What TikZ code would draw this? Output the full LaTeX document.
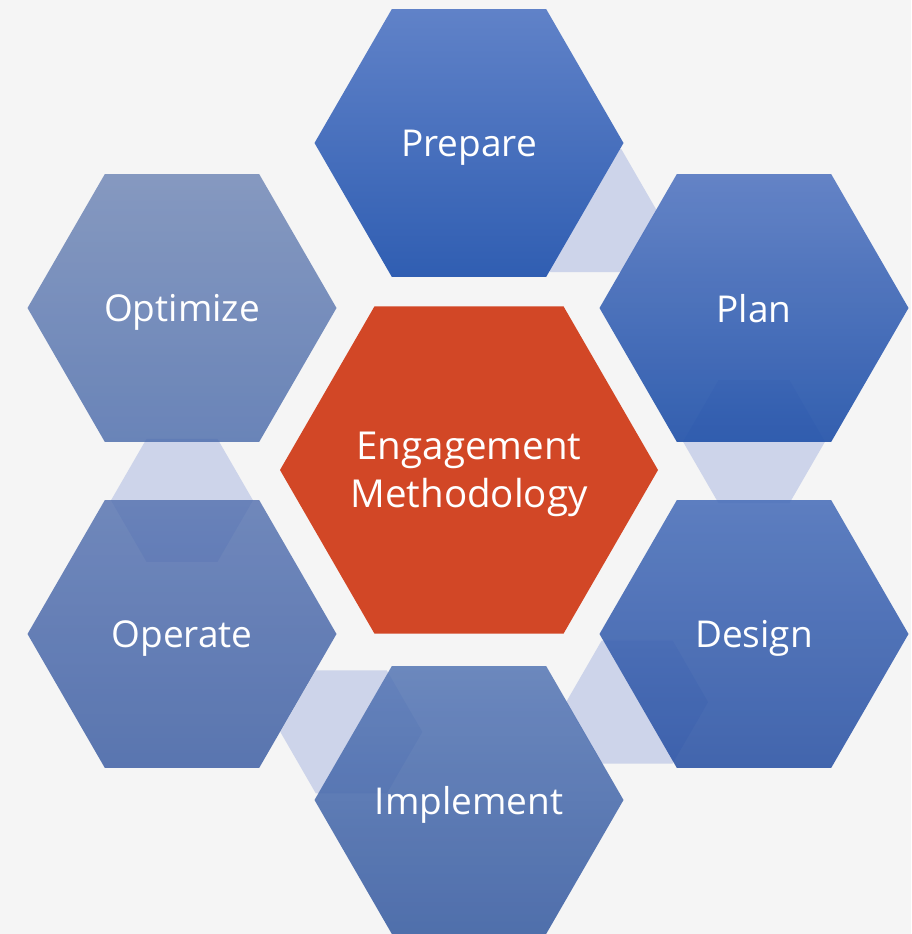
\documentclass[tikz,border=0pt]{standalone}
\usepackage{fontspec}
\setmainfont{Open Sans}
\usetikzlibrary{shapes.geometric,calc}

\definecolor{canvas}{RGB}{245,245,245}
\definecolor{coreRed}{RGB}{210,71,38}
\definecolor{linkLav}{RGB}{205,212,234}
\definecolor{prepareTop}{RGB}{96,130,200}
\definecolor{prepareBot}{RGB}{48,94,178}
\definecolor{planTop}{RGB}{88,122,194}
\definecolor{planBot}{RGB}{35,83,170}
\definecolor{designTop}{RGB}{72,110,185}
\definecolor{designBot}{RGB}{42,82,164}
\definecolor{implTop}{RGB}{84,117,180}
\definecolor{implBot}{RGB}{51,88,159}
\definecolor{operTop}{RGB}{83,112,175}
\definecolor{operBot}{RGB}{56,90,161}
\definecolor{optiTop}{RGB}{106,130,179}
\definecolor{optiBot}{RGB}{71,104,169}

\tikzset{
    hexa/.style={regular polygon, regular polygon sides=6, inner sep=0pt,
        text=white, text opacity=1, align=center, text depth=0pt},
    phase/.style={hexa, minimum size=309pt, font=\fontsize{37}{48}\selectfont},
    core/.style={hexa, minimum size=378pt, fill=coreRed},
    coretext/.style={text=white, align=center, inner sep=0pt, text depth=0pt,
        font=\fontsize{38.5}{48}\selectfont},
    link/.style={hexa, minimum size=142pt, fill=linkLav},
}

\begin{document}
    \begin{tikzpicture}[x=1pt,y=-1pt]
        \useasboundingbox (0,0) rectangle (911,934);
        \fill[canvas] (0,0) rectangle (911,934);
        % centres of the six phases
        \coordinate (prepare-pos) at (469,143);
        \coordinate (plan-pos) at (754,308);
        \coordinate (design-pos) at (754,634);
        \coordinate (implement-pos) at (469,800);
        \coordinate (operate-pos) at (182,634);
        \coordinate (optimize-pos) at (182,308);
        % links go underneath
        \foreach \from/\to in {prepare/plan, plan/design, design/implement, implement/operate, operate/optimize}
            \node[link] (link-\from) at ($(\from-pos)!0.41!(\to-pos)$) {};
        % phases
        \node[phase, top color=prepareTop, bottom color=prepareBot] (prepare) at (prepare-pos) {Prepare};
        \node[phase, top color=planTop, bottom color=planBot, fill opacity=0.92] (plan) at (plan-pos) {Plan};
        \node[phase, top color=designTop, bottom color=designBot, fill opacity=0.88] (design) at (design-pos) {Design};
        \node[phase, top color=implTop, bottom color=implBot, fill opacity=0.85] (implement) at (implement-pos) {Implement};
        \node[phase, top color=operTop, bottom color=operBot, fill opacity=0.82] (operate) at (operate-pos) {Operate};
        \node[phase, top color=optiTop, bottom color=optiBot, fill opacity=0.8] (optimize) at (optimize-pos) {Optimize};
        % centre
        \node[core] (core) at (469,470) {};
        \node[coretext] (core-text) at (core.center) {Engagement\\Methodology};
    \end{tikzpicture}
\end{document}
